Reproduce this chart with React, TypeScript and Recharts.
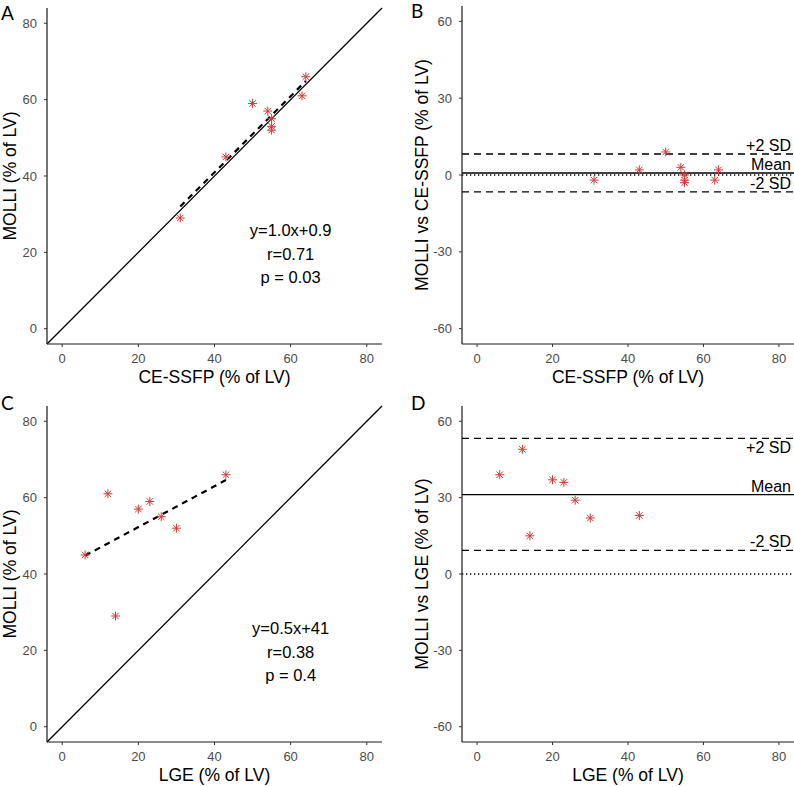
import React from "react";
import {
  ScatterChart,
  Scatter,
  XAxis,
  YAxis,
  ReferenceLine,
  ReferenceDot,
} from "recharts";

// Panel A / B: CE-SSFP vs MOLLI
const ceSsfp = [31, 43, 50, 54, 55, 55, 55, 63, 64];
const molliA = [29, 45, 59, 57, 55, 53, 52, 61, 66];
const diffB = [-2, 2, 9, 3, 0, -2, -3, -2, 2];
const regA = [
  [31, 32.0],
  [64, 64.9],
];
const statsB = { upper: 8.2, mean: 0.8, lower: -6.6 };
const annotA = ["y=1.0x+0.9", "r=0.71", "p = 0.03"];

// Panel C / D: LGE vs MOLLI
const lge = [6, 12, 14, 20, 23, 26, 30, 43];
const molliC = [45, 61, 29, 57, 59, 55, 52, 66];
const diffD = [39, 49, 15, 37, 36, 29, 22, 23];
const regC = [
  [6, 44.8],
  [43, 64.6],
];
const statsD = { upper: 53.3, mean: 31.2, lower: 9.3 };
const annotC = ["y=0.5x+41", "r=0.38", "p = 0.4"];

const identity = [
  [-4, -4],
  [84, 84],
];
const annotY = [25.8, 19.6, 13.5];
const annotX = 60;

const xTicks = [0, 20, 40, 60, 80];
const yTicksCorr = [0, 20, 40, 60, 80];
const yTicksBA = [-60, -30, 0, 30, 60];

const RED = "#D03A3A";
const FONT = "'Liberation Sans', Arial, sans-serif";

function Star(props: any) {
  const { cx, cy } = props;
  if (cx == null || cy == null) return null;
  const r = 4.5;
  const d = r * 0.72;
  return (
    <g stroke={RED} strokeWidth={1}>
      <line x1={cx - r} y1={cy} x2={cx + r} y2={cy} />
      <line x1={cx} y1={cy - r} x2={cx} y2={cy + r} />
      <line x1={cx - d} y1={cy - d} x2={cx + d} y2={cy + d} />
      <line x1={cx - d} y1={cy + d} x2={cx + d} y2={cy - d} />
    </g>
  );
}

const tickStyle = { fill: "#4d4d4d", fontSize: 13 };
const axisLine = { stroke: "#1a1a1a", strokeWidth: 1.2 };
const tickLine = { stroke: "#333" };
const titleStyle = { fill: "#000", fontSize: 17.5 };

function toPoints(xs: number[], ys: number[]) {
  return xs.map((x, i) => ({ x, y: ys[i] }));
}

function seg(s: number[][]) {
  return [
    { x: s[0][0], y: s[0][1] },
    { x: s[1][0], y: s[1][1] },
  ] as any;
}

interface CorrProps {
  width: number;
  height: number;
  margin: { top: number; right: number; bottom: number; left: number };
  xs: number[];
  ys: number[];
  reg: number[][];
  annot: string[];
  xTitle: string;
}

function CorrPanel({ width, height, margin, xs, ys, reg, annot, xTitle }: CorrProps) {
  return (
    <ScatterChart width={width} height={height} margin={margin}>
      <XAxis
        type="number"
        dataKey="x"
        domain={[-4, 84]}
        ticks={xTicks}
        allowDataOverflow
        height={40}
        tick={tickStyle}
        axisLine={axisLine}
        tickLine={tickLine}
        tickSize={3}
        tickMargin={7}
        label={{ value: xTitle, position: "insideBottom", offset: 1, style: titleStyle }}
      />
      <YAxis
        type="number"
        dataKey="y"
        domain={[-4, 84]}
        ticks={yTicksCorr}
        allowDataOverflow
        width={47}
        tick={tickStyle}
        axisLine={axisLine}
        tickLine={tickLine}
        tickSize={3}
        tickMargin={7}
        label={{
          value: "MOLLI (% of LV)",
          angle: -90,
          position: "insideLeft",
          offset: 10,
          style: { ...titleStyle, textAnchor: "middle" },
        }}
      />
      <ReferenceLine segment={seg(identity)} stroke="#000" strokeWidth={1.3} />
      <ReferenceLine segment={seg(reg)} stroke="#000" strokeWidth={2.2} strokeDasharray="6 5" />
      {annot.map((t, i) => (
        <ReferenceDot
          key={t}
          x={annotX}
          y={annotY[i]}
          r={0}
          stroke="none"
          fill="none"
          label={{ value: t, position: "center", style: { fill: "#000", fontSize: 16.5 } }}
        />
      ))}
      <Scatter data={toPoints(xs, ys)} shape={Star} isAnimationActive={false} />
    </ScatterChart>
  );
}

interface BAProps {
  width: number;
  height: number;
  margin: { top: number; right: number; bottom: number; left: number };
  xs: number[];
  ys: number[];
  stats: { upper: number; mean: number; lower: number };
  xTitle: string;
  yTitle: string;
  upperBelow?: boolean;
}

function BAPanel({ width, height, margin, xs, ys, stats, xTitle, yTitle, upperBelow }: BAProps) {
  const lbl = { fill: "#000", fontSize: 16 };
  return (
    <ScatterChart width={width} height={height} margin={margin}>
      <XAxis
        type="number"
        dataKey="x"
        domain={[-4, 84]}
        ticks={xTicks}
        allowDataOverflow
        height={40}
        tick={tickStyle}
        axisLine={axisLine}
        tickLine={tickLine}
        tickSize={3}
        tickMargin={7}
        label={{ value: xTitle, position: "insideBottom", offset: 1, style: titleStyle }}
      />
      <YAxis
        type="number"
        dataKey="y"
        domain={[-66, 66]}
        ticks={yTicksBA}
        allowDataOverflow
        width={57}
        tick={tickStyle}
        axisLine={axisLine}
        tickLine={tickLine}
        tickSize={3}
        tickMargin={7}
        label={{
          value: yTitle,
          angle: -90,
          position: "insideLeft",
          offset: 17,
          style: { ...titleStyle, textAnchor: "middle" },
        }}
      />
      <ReferenceLine y={0} stroke="#000" strokeWidth={1.3} strokeDasharray="1.3 2.7" />
      <ReferenceLine
        y={stats.upper}
        stroke="#000"
        strokeWidth={1.3}
        strokeDasharray="7 5"
        label={{
          value: "+2 SD",
          position: upperBelow ? "insideTopRight" : "insideBottomRight",
          offset: 3,
          style: lbl,
        }}
      />
      <ReferenceLine
        y={stats.mean}
        stroke="#000"
        strokeWidth={1.4}
        label={{ value: "Mean", position: "insideBottomRight", offset: 3, style: lbl }}
      />
      <ReferenceLine
        y={stats.lower}
        stroke="#000"
        strokeWidth={1.3}
        strokeDasharray="7 5"
        label={{ value: "-2 SD", position: "insideBottomRight", offset: 3, style: lbl }}
      />
      <Scatter data={toPoints(xs, ys)} shape={Star} isAnimationActive={false} />
    </ScatterChart>
  );
}

const letterStyle = { fontFamily: "Lato, 'Open Sans', sans-serif", fontSize: 19, fill: "#000" };

export default function App() {
  return (
    <div
      style={{
        position: "absolute",
        left: 0,
        top: 0,
        width: 794,
        height: 787,
        background: "#fff",
        fontFamily: FONT,
      }}
    >
      <div style={{ position: "absolute", left: 0, top: 0 }}>
        <CorrPanel
          width={397}
          height={390}
          margin={{ top: 8, right: 15, bottom: 6, left: 0 }}
          xs={ceSsfp}
          ys={molliA}
          reg={regA}
          annot={annotA}
          xTitle="CE-SSFP (% of LV)"
        />
      </div>
      <div style={{ position: "absolute", left: 405, top: 0 }}>
        <BAPanel
          width={389}
          height={390}
          margin={{ top: 6, right: 0, bottom: 6, left: 0 }}
          xs={ceSsfp}
          ys={diffB}
          stats={statsB}
          xTitle="CE-SSFP (% of LV)"
          yTitle="MOLLI vs CE-SSFP (% of LV)"
        />
      </div>
      <div style={{ position: "absolute", left: 0, top: 398 }}>
        <CorrPanel
          width={397}
          height={389}
          margin={{ top: 8, right: 15, bottom: 5, left: 0 }}
          xs={lge}
          ys={molliC}
          reg={regC}
          annot={annotC}
          xTitle="LGE (% of LV)"
        />
      </div>
      <div style={{ position: "absolute", left: 405, top: 398 }}>
        <BAPanel
          width={389}
          height={389}
          margin={{ top: 8, right: 0, bottom: 5, left: 0 }}
          xs={lge}
          ys={diffD}
          stats={statsD}
          xTitle="LGE (% of LV)"
          yTitle="MOLLI vs LGE (% of LV)"
          upperBelow
        />
      </div>
      <svg
        width={794}
        height={787}
        style={{ position: "absolute", left: 0, top: 0, pointerEvents: "none" }}
      >
        <text x={1} y={19.5} style={letterStyle}>A</text>
        <text x={411} y={17.5} style={letterStyle}>B</text>
        <text x={1} y={409.5} style={letterStyle}>C</text>
        <text x={411} y={410} style={letterStyle}>D</text>
      </svg>
    </div>
  );
}
